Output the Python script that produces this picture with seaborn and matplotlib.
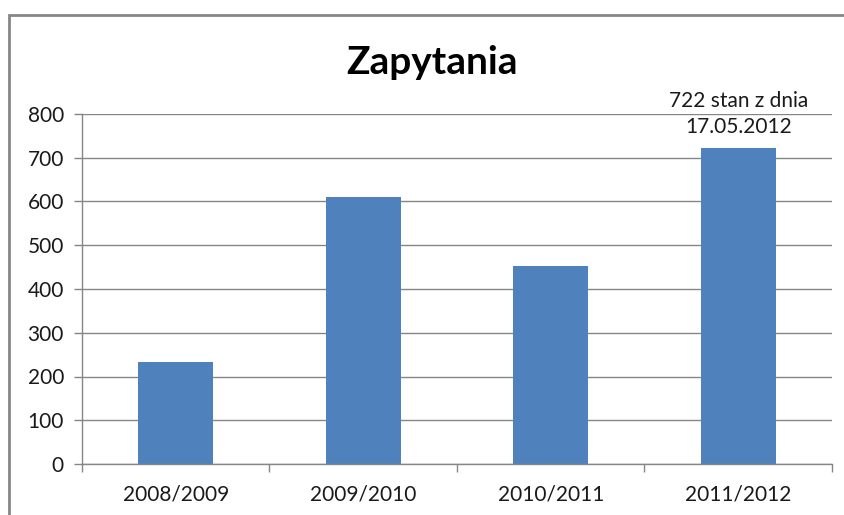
import matplotlib
matplotlib.use("Agg")
import matplotlib.pyplot as plt
import seaborn as sns
import pandas as pd
from matplotlib.patches import Rectangle

# data
seasons = ["2008/2009", "2009/2010", "2010/2011", "2011/2012"]
queries = [233, 610, 453, 722]
note = "722 stan z dnia\n17.05.2012"

sns.set_theme(style="white")
plt.rcParams['font.family'] = ['Lato', 'DejaVu Sans']

df = pd.DataFrame({"season": seasons, "queries": queries})

fig = plt.figure(figsize=(8.45, 5.15), dpi=100)
ax = fig.add_axes([82/845, 1 - 464/515, 750/845, 350/515])

sns.barplot(data=df, x="season", y="queries", color="#4F81BD", saturation=1,
            width=0.4, linewidth=0, ax=ax)

grid_c = "#868686"
txt_c = "#1a1a1a"
ax.set_ylim(0, 800)
ax.set_xlim(-0.5, len(seasons) - 0.5)
ax.set_yticks(range(0, 801, 100))
ax.yaxis.grid(True, color=grid_c, linewidth=1)
ax.set_axisbelow(True)
ax.set_xlabel("")
ax.set_ylabel("")

for s in ["top", "right"]:
    ax.spines[s].set_visible(False)
for s in ["left", "bottom"]:
    ax.spines[s].set_color(grid_c)
    ax.spines[s].set_linewidth(1)

ax.tick_params(axis="y", which="major", left=True, length=6, width=1, color=grid_c,
               labelsize=15, labelcolor=txt_c, pad=7)
ax.tick_params(axis="x", which="major", bottom=False, labelsize=15,
               labelcolor=txt_c, pad=9)
ax.set_xticks([i - 0.5 for i in range(len(seasons) + 1)], minor=True)
ax.tick_params(axis="x", which="minor", bottom=True, length=6, width=1, color=grid_c)

# note above the last bar
ax.annotate(note, xy=(3, queries[3]), xytext=(0, 8), textcoords="offset points",
            ha="center", va="bottom", fontsize=15, linespacing=1.4, color=txt_c)

fig.text(432/845, 1 - 62/515, "Zapytania", ha="center", va="center",
         fontsize=28, fontweight="bold", color="black")

# chart area border
fig.patches.append(Rectangle((9/845, -0.1), 1.0, 1 - 15/515 + 0.1,
                             transform=fig.transFigure, fill=False,
                             edgecolor=grid_c, linewidth=2, clip_on=False))

fig.savefig("out.png", dpi=100)
